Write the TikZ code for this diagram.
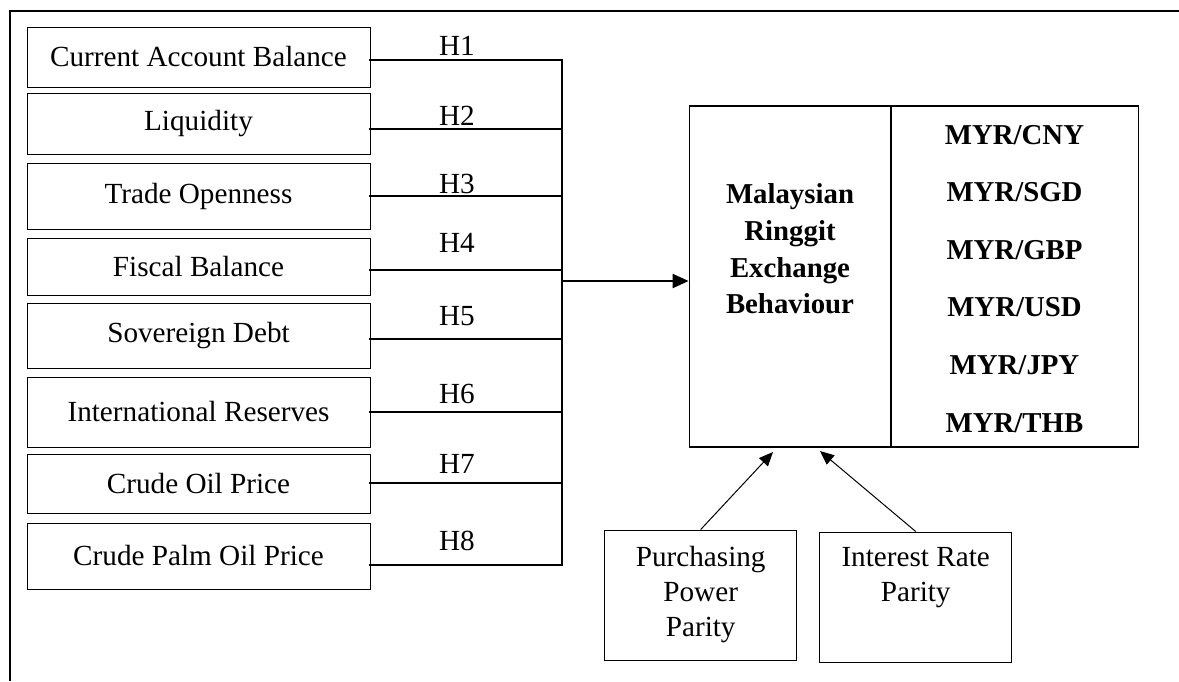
\documentclass[tikz,border=0pt]{standalone}
\usepackage{fontspec}
\setmainfont{Liberation Serif}
\usetikzlibrary{arrows.meta}

\begin{document}
\begin{tikzpicture}[x=0.5pt,y=-0.5pt,
        factor/.style={draw,line width=0.5pt,minimum width=171.5pt,inner sep=0pt,
            font=\fontsize{14.6}{17.5}\selectfont},
        hline/.style={line width=1.1pt,line cap=rect},
        hlab/.style={anchor=base,inner sep=0pt,font=\fontsize{14.6}{17.5}\selectfont},
        mainbox/.style={draw,line width=0.9pt,minimum width=224.5pt,minimum height=170.5pt,inner sep=0pt},
        cur/.style={anchor=base,inner sep=0pt,font=\fontsize{14.4}{18.35}\selectfont\bfseries},
        theory/.style={draw,line width=0.5pt,minimum width=96pt,minimum height=65pt,inner sep=0pt,
            align=center,font=\fontsize{14.6}{17.5}\selectfont},
        bigtip/.style={-{Triangle[length=8pt,width=7pt]}},
        smalltip/.style={line width=0.5pt,-{Triangle[length=7pt,width=6pt]}}]
    \useasboundingbox (0,0) rectangle (1179,681);
    \draw [line width=1.3pt] (10,681) -- (10,11) -- (1179,11);
    \foreach \nm/\y/\h/\ly/\lb/\txt [count=\i] in {
            cab/57/60/60/55/Current Account Balance,
            liq/123.5/61/129/125/Liquidity,
            trade/196/66/196/193/Trade Openness,
            fiscal/266.5/57/270/252/Fiscal Balance,
            debt/335.5/65/339/325/Sovereign Debt,
            reserves/412/70/412/403/International Reserves,
            oil/483.5/59/483/473/Crude Oil Price,
            palm/556/66/565/550/Crude Palm Oil Price}{
        \node [factor,minimum height=\h*0.5pt] (\nm) at (198.5,\y) {\txt};
        \coordinate (j\i) at (562,\ly);
        \draw [hline] (\nm.east |- j\i) -- (j\i);
        \node [hlab] (h\i) at (457,\lb) {H\i};
    }
    \draw [hline] (j1) -- (j8);
    \node [mainbox] (main) at (914,276.5) {};
    \coordinate (split) at (891,276.5);
    \draw [line width=1.3pt] (split |- main.north) -- (split |- main.south);
    \node [align=center,inner sep=0pt,font=\fontsize{14.4}{18.35}\selectfont\bfseries] (rmb) at (790,249)
        {Malaysian\\Ringgit\\Exchange\\Behaviour};
    \foreach \c [count=\k] in {CNY,SGD,GBP,USD,JPY,THB}
        \node [cur] (c\k) at (1014.5,{144+(\k-1)*57.6}) {MYR/\c};
    \coordinate (out) at (562,281);
    \draw [hline,line cap=butt,bigtip] (out) -- (out -| main.west);
    \node [theory] (ppp) at (700.7,595) {Purchasing\\Power\\Parity};
    \node [theory] (irp) at (915.7,597) {Interest Rate\\Parity\\\strut};
    \coordinate (tipP) at (773,452);
    \coordinate (tipI) at (820,451);
    \draw [smalltip] (ppp.north) -- (tipP);
    \draw [smalltip] (irp.north) -- (tipI);
\end{tikzpicture}
\end{document}
